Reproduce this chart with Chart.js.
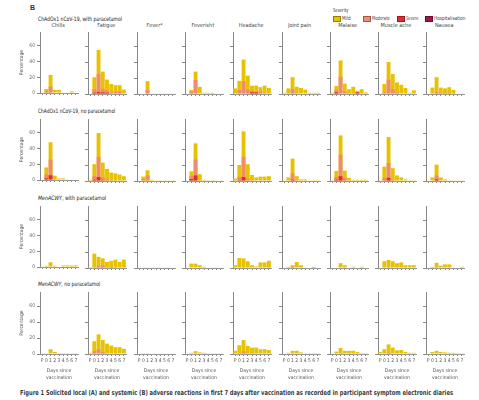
<!DOCTYPE html>
<html>
<head>
<meta charset="utf-8">
<script src="https://cdn.jsdelivr.net/npm/chart.js@4.4.1/dist/chart.umd.min.js"></script>
<style>
  body { margin: 0; width: 479px; height: 400px; background: #fff; position: relative; overflow: hidden;
         font-family: "Liberation Sans Narrow", "DejaVu Sans Condensed", sans-serif; color: #333; }
  .t { position: absolute; white-space: nowrap; line-height: 1; transform-origin: left center; }
  .sw { position: absolute; width: 6px; height: 4px; transform: translateY(-50%); border: 0.5px solid rgba(0,0,0,0.35); }
  canvas { position: absolute; }
</style>
</head>
<body>
<script>
const days = ['P', '0', '1', '2', '3', '4', '5', '6', '7'];
const symptoms = ['Chills', 'Fatigue', 'Fever*', 'Feverish\u2020', 'Headache', 'Joint pain', 'Malaise', 'Muscle ache', 'Nausea'];
const groups = ['ChAdOx1 nCoV-19, with paracetamol', 'ChAdOx1 nCoV-19, no paracetamol',
                'MenACWY, with paracetamol', 'MenACWY, no paracetamol'];
const severities = ['Mild', 'Moderate', 'Severe', 'Hospitalisation'];
const severityColors = ['#e6c200', '#f08b70', '#e52b2f', '#a3163f'];
const yTicks = [0, 20, 40, 60];

// % of participants with the symptom at any grade (bar top), one row per symptom
const chadParaAny = [
  [0, 5, 23, 4, 4, 0, 0, 2, 0],
  [0.5, 21, 55, 28, 18, 12.5, 11, 11, 5.5],
  [0, 0, 16, 0.4, 0.4, 0.4, 0.4, 0.4, 0.4],
  [0, 5, 28, 9, 1.5, 1.5, 1.5, 0.5, 0.5],
  [7, 16.5, 43, 23, 10.5, 10.5, 8.5, 10.5, 7.5],
  [1.5, 7, 21, 9, 7.5, 5.5, 1.5, 1.5, 1.5],
  [1.5, 10, 42, 13, 6, 9, 4, 6, 2],
  [1, 12.5, 40, 25, 14.5, 11.5, 7.5, 1.5, 4.5],
  [0.5, 8, 21, 8, 7, 8.5, 5, 0.5, 0.5]
];
// moderate or worse
const chadParaMod = [
  [0, 2.5, 8, 0, 0, 0, 0, 0, 0],
  [0, 6, 25, 6.5, 4.5, 2, 3, 3, 0],
  [0, 0, 5, 0, 0, 0, 0, 0, 0],
  [0, 3, 17.5, 0, 0, 0, 0, 0, 0],
  [0, 5, 16, 5.5, 4, 3, 3, 1, 0],
  [0, 1, 6, 1, 0, 0, 0, 0, 0],
  [0, 5, 21.5, 3, 1, 1, 2.5, 0, 0],
  [0, 2, 18, 6, 2, 0.5, 0, 0, 0],
  [0, 1, 2.5, 1.5, 1.5, 1.5, 1, 0, 0]
];
// severe or worse
const chadParaSev = [
  [0, 0, 0, 0, 0, 0, 0, 0, 0],
  [0, 1.5, 2.5, 2, 1.5, 0, 0, 0, 0],
  [0, 0, 0, 0, 0, 0, 0, 0, 0],
  [0, 0, 0, 0, 0, 0, 0, 0, 0],
  [0, 0, 0, 0, 2, 2, 0, 0, 0],
  [0, 0, 0, 0, 0, 0, 0, 0, 0],
  [0, 2, 0, 0, 0, 0, 2, 0, 0],
  [0, 0, 0, 0, 0, 0, 0, 0, 0],
  [0, 0, 0, 0, 0, 0, 0, 0, 0]
];

const chadNoAny = [
  [0, 16, 48, 5.5, 2, 2, 0.5, 0.5, 0.5],
  [1.5, 21, 60, 23, 15, 10.5, 9.5, 8, 6],
  [0, 5.5, 13.5, 1.5, 0.4, 0.4, 0.4, 0.4, 0.4],
  [0, 12, 47, 8.5, 1.5, 1, 1, 0.5, 0.5],
  [3, 20, 62, 21, 7.5, 4.5, 5.5, 5.5, 6],
  [1, 4.5, 28, 6, 2, 2, 0.5, 1, 1],
  [1, 12.5, 57, 13, 4, 1.5, 1.5, 1.5, 1.5],
  [1, 18, 55, 16, 7, 4.5, 2, 1, 1],
  [0.5, 4.5, 20.5, 4.5, 2, 1, 0.5, 0.5, 0.5]
];
const chadNoMod = [
  [0, 7, 26, 1, 0, 0, 0, 0, 0],
  [0, 6, 30, 4.5, 2, 1, 1, 0.5, 0],
  [0, 2.5, 7, 0, 0, 0, 0, 0, 0],
  [0, 6, 27, 1, 0, 0, 0, 0, 0],
  [0, 5, 30, 3, 1, 0.5, 0.5, 0.5, 0.5],
  [0, 0.5, 9.5, 1, 0, 0, 0, 0, 0],
  [0, 5, 33, 4, 1, 0, 0, 0, 0],
  [0, 3.5, 22.5, 1.5, 0.5, 0, 0, 0, 0],
  [0, 0.5, 7, 0.5, 0, 0, 0, 0, 0]
];
const chadNoSev = [
  [0, 2, 6, 0, 0, 0, 0, 0, 0],
  [0, 1.5, 5, 1, 0, 0, 0, 0, 0],
  [0, 0, 0, 0, 0, 0, 0, 0, 0],
  [0, 2.5, 7, 0, 0, 0, 0, 0, 0],
  [0, 1, 5, 0, 0, 0, 0, 0, 0],
  [0, 0, 1.5, 0, 0, 0, 0, 0, 0],
  [0, 1.5, 6, 0.5, 0, 0, 0, 0, 0],
  [0, 0.5, 4, 0, 0, 0, 0, 0, 0],
  [0, 0, 2, 0, 0, 0, 0, 0, 0]
];

const menParaAny = [
  [0, 1.5, 6, 1.5, 0, 2, 2, 2, 2],
  [1, 18, 14, 12, 7.5, 9, 10.5, 7.5, 10.5],
  [0.4, 0.4, 0.4, 0.4, 0.4, 0.4, 0.4, 0.4, 0.4],
  [0.4, 5.5, 5.5, 3.5, 1.5, 0.4, 0.4, 0.4, 0.4],
  [3.5, 12.5, 12, 8.5, 3.5, 2, 7, 7, 9],
  [0, 1.5, 3.5, 7.5, 3.5, 0, 0, 1.5, 0],
  [0, 0, 6, 3.5, 0, 1.5, 0, 1.5, 0],
  [0.5, 8.5, 10, 8.5, 6, 7, 3.5, 3.5, 3.5],
  [0, 1.5, 6.5, 3, 4.5, 4.5, 0, 0, 1.5]
];
const menParaMod = [
  [0, 0, 0, 0, 0, 0, 0, 0, 0],
  [0, 1, 2.5, 3, 1, 1.5, 1, 0.5, 0.5],
  [0, 0, 0, 0, 0, 0, 0, 0, 0],
  [0, 0, 0, 0, 0, 0, 0, 0, 0],
  [0, 0.5, 1, 0.5, 0, 0, 0.5, 0.5, 1],
  [0, 0, 1.5, 0, 0, 0, 0, 1, 0],
  [0, 0, 0, 0, 0, 0, 0, 0, 0],
  [0, 0.5, 1, 0.5, 0, 0, 0, 0, 0],
  [0, 0.5, 1, 0.5, 0, 0, 0, 0, 0]
];

const menNoAny = [
  [1, 1, 6, 2.5, 1, 1, 1, 1, 1],
  [1.5, 16, 24.5, 17.5, 13, 10.5, 8.5, 8.5, 6.5],
  [0.5, 1, 1, 0.5, 0.5, 0.5, 0.5, 0.5, 0.5],
  [0.5, 1.5, 3.5, 2, 1.5, 1, 1, 1, 1],
  [4, 11, 17.5, 10, 8, 8, 6, 6, 5],
  [0.5, 1.5, 4, 4, 2, 1, 1, 1, 1],
  [1, 3, 7.5, 4, 4, 4, 2.5, 1, 1],
  [2.5, 6, 12, 8, 4.5, 5, 2.5, 1.5, 1.5],
  [0.5, 2.5, 4, 2.5, 2, 1.5, 1.5, 1, 1]
];
const menNoMod = [
  [0, 0, 0, 0, 0, 0, 0, 0, 0],
  [0, 3.5, 6, 2.5, 0.5, 0.5, 0.5, 0, 0],
  [0, 0, 0, 0, 0, 0, 0, 0, 0],
  [0, 0, 0, 0, 0, 0, 0, 0, 0],
  [0, 1, 3, 1, 1, 0.5, 0.5, 0.5, 0.5],
  [0, 0, 0, 0, 0, 0, 0, 0, 0],
  [0, 0.5, 1, 0.5, 0.5, 0.5, 0, 0.5, 0.5],
  [0, 0.5, 1.5, 0.5, 0, 0, 0, 0, 0],
  [0, 0, 0, 0, 0, 0, 0, 0, 0]
];

const rows = [
  { any: chadParaAny, mod: chadParaMod, sev: chadParaSev },
  { any: chadNoAny, mod: chadNoMod, sev: chadNoSev },
  { any: menParaAny, mod: menParaMod, sev: null },
  { any: menNoAny, mod: menNoMod, sev: null }
];

// layout (px)
const axisX0 = 40, colStep = 48.3;
const zeroY = [94, 181, 267.5, 354];
const plotW = 38, plotH = 62, padTop = 5, padRight = 3;

Chart.defaults.font.family = '"Liberation Sans Narrow", "DejaVu Sans Condensed", sans-serif';

// place a text line; x is left edge (or centre), y is vertical centre, width squeezes it to fit
function text(str, x, y, css, opts) {
  opts = opts || {};
  const d = document.createElement('div');
  d.className = 't';
  if (str !== null) d.textContent = str;
  Object.assign(d.style, css || {});
  document.body.appendChild(d);
  if (opts.build) opts.build(d);
  const natural = d.offsetWidth;
  const k = opts.width ? opts.width / natural : 1;
  const shown = natural * k;
  d.style.left = (opts.center ? x - shown / 2 : x) + 'px';
  d.style.top = y + 'px';
  d.style.transform = 'translateY(-50%) scaleX(' + k + ')';
  return d;
}

// header, legend
text('B', 30, 6.5, { fontSize: '7px', fontWeight: 'bold', fontFamily: '"Liberation Sans", sans-serif' });
text('Severity', 333.3, 11, { fontSize: '5.5px', color: '#333' }, { width: 15 });
const legendX = [333, 362.5, 396.5, 425];
const legendW = [8.4, 18.3, 12.3, 31.7];
severities.forEach((s, i) => {
  const sw = document.createElement('div');
  sw.className = 'sw';
  sw.style.left = legendX[i] + 'px';
  sw.style.top = '18.7px';
  sw.style.background = severityColors[i];
  document.body.appendChild(sw);
  text(s, legendX[i] + 9.3, 18.7, { fontSize: '5.5px', color: '#444' }, { width: legendW[i] });
});

const groupY = [19, 111, 197.5, 284];
const groupW = [84, 77, 68, 62];
groups.forEach((g, r) => {
  text(null, 38, groupY[r], { fontSize: '6px', color: '#222' }, {
    width: groupW[r],
    build: d => {
      if (g.startsWith('MenACWY')) {
        const em = document.createElement('i');
        em.textContent = 'MenACWY';
        d.appendChild(em);
        d.appendChild(document.createTextNode(g.slice(7)));
      } else {
        d.textContent = g;
      }
    }
  });
});

symptoms.forEach((s, c) => {
  text(s, axisX0 + colStep * c + 18, 26, { fontSize: '5.5px', color: '#444' }, { center: true });
});

text('Figure 1  Solicited local (A) and systemic (B) adverse reactions in first 7 days after vaccination as recorded in participant symptom electronic diaries',
     20, 393, { fontSize: '7px', fontWeight: 'bold', color: '#3a3a3a' }, { width: 433 });

// panels
rows.forEach((row, r) => {
  const bottom = r === rows.length - 1;
  const xh = bottom ? 27 : 4;
  symptoms.forEach((s, c) => {
    const first = c === 0;
    const yw = first ? 26 : 5;
    const axisX = Math.round(axisX0 + colStep * c);
    const cv = document.createElement('canvas');
    const w = yw + plotW + padRight, h = padTop + plotH + xh;
    cv.width = w; cv.height = h;
    cv.style.width = w + 'px'; cv.style.height = h + 'px';
    cv.style.left = (axisX - yw) + 'px';
    cv.style.top = Math.round(zeroY[r] - plotH - padTop) + 'px';
    document.body.appendChild(cv);

    const datasets = [
      { label: severities[0], data: row.any[c], backgroundColor: severityColors[0], order: 3 },
      { label: severities[1], data: row.mod[c], backgroundColor: severityColors[1], order: 2 }
    ];
    if (row.sev) {
      datasets.push({ label: severities[2], data: row.sev[c], backgroundColor: severityColors[2], order: 1 });
    }

    new Chart(cv, {
      type: 'bar',
      data: { labels: days, datasets: datasets },
      options: {
        responsive: false,
        animation: false,
        devicePixelRatio: 1,
        layout: { padding: { top: padTop, right: padRight, left: 0, bottom: 0 } },
        datasets: { bar: { categoryPercentage: 1, barPercentage: 0.92, borderWidth: 0 } },
        plugins: { legend: { display: false }, tooltip: { enabled: false } },
        scales: {
          x: {
            stacked: true,
            grid: { drawOnChartArea: false, drawTicks: true, tickLength: 2, offset: false, color: '#888' },
            border: { color: '#999' },
            ticks: { display: bottom, padding: 2, autoSkip: false, maxRotation: 0, color: '#555', font: { size: 5 } },
            title: { display: bottom, text: ['Days since', 'vaccination'], color: '#555',
                     font: { size: 5, lineHeight: 1.4 }, padding: { top: 0, bottom: 0 } },
            afterFit: scale => { scale.height = xh; }
          },
          y: {
            stacked: false,
            min: 0,
            max: 77.5,
            afterBuildTicks: scale => { scale.ticks = yTicks.map(v => ({ value: v })); },
            grid: { drawOnChartArea: false, tickLength: 3, color: '#888' },
            border: { color: '#888' },
            ticks: { display: first, padding: 2, color: '#666', font: { size: 5 } },
            title: { display: first, text: 'Percentage', color: '#555',
                     font: { size: 5 }, padding: { top: 5, bottom: 0 } },
            afterFit: scale => { scale.width = yw; }
          }
        }
      }
    });
  });
});
</script>
</body>
</html>
